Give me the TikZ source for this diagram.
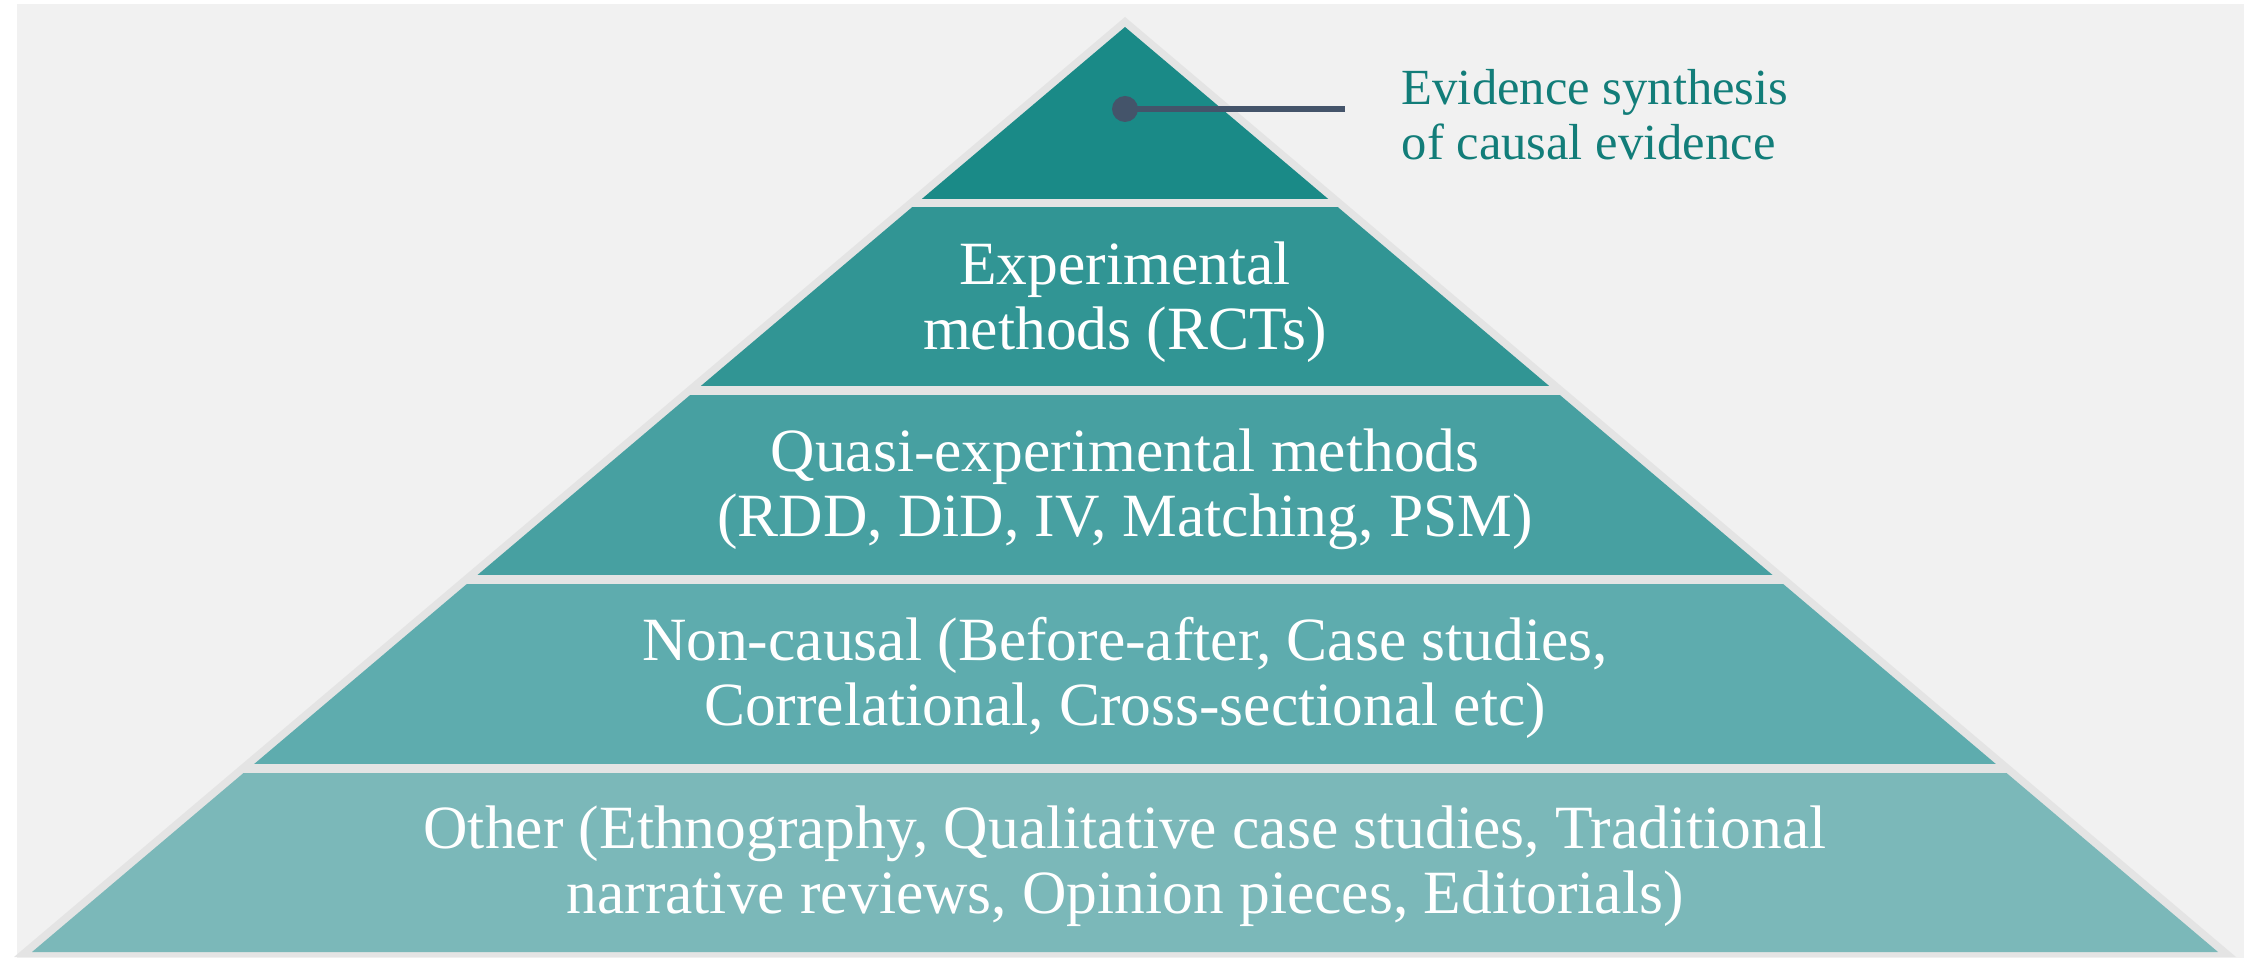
\documentclass[tikz,border=0pt]{standalone}
\usepackage{fontspec}
\setmainfont{Liberation Serif}
\usetikzlibrary{positioning}

\definecolor{panel}{HTML}{F1F1F1}
\definecolor{rim}{HTML}{E4E4E4}
\definecolor{tierA}{HTML}{1A8A87}
\definecolor{tierB}{HTML}{319594}
\definecolor{tierC}{HTML}{47A0A1}
\definecolor{tierD}{HTML}{5EACAE}
\definecolor{tierE}{HTML}{7BB8B9}
\definecolor{slate}{HTML}{44546A}
\definecolor{tealink}{HTML}{127D79}

\begin{document}
\begin{tikzpicture}[
  tiertext/.style={
    text=white, align=center,
    font=\fontsize{17.5}{18.6}\selectfont
  },
  note/.style={
    text=tealink, align=left, inner sep=0pt,
    font=\fontsize{14.4}{15.6}\selectfont
  },
  pin/.style={circle, fill=slate, inner sep=0pt, minimum size=0.26cm},
  leader/.style={slate, line width=1.7pt},
]

\useasboundingbox (0,0) rectangle (22.44,9.58);

% Grey panel behind the pyramid
\fill[panel] (0.17,0) rectangle (22.44,9.54);

% Outer rim of the pyramid
\fill[rim] (11.25,9.41) -- (0.14,0.01) -- (22.36,0.01) -- cycle;

% Tiers: horizontal bands clipped to the inner triangle
\begin{scope}
  \clip (11.25,9.31) -- (0.32,0.06) -- (22.18,0.06) -- cycle;
  \foreach \bot/\top/\col in {7.59/9.40/tierA, 5.72/7.51/tierB,
                              3.83/5.63/tierC, 1.94/3.74/tierD,
                              0.00/1.85/tierE}
    \fill[\col] (0,\bot) rectangle (22.44,\top);
\end{scope}

% Tier labels
\node[tiertext] (rct)   at (11.25,6.56) {Experimental\\methods (RCTs)};
\node[tiertext] (quasi) at (11.25,4.69) {Quasi-experimental methods\\(RDD, DiD, IV, Matching, PSM)};
\node[tiertext] (noncs) at (11.25,2.80) {Non-causal (Before-after, Case studies,\\Correlational, Cross-sectional etc)};
\node[tiertext] (other) at (11.25,0.92) {Other (Ethnography, Qualitative case studies, Traditional\\narrative reviews, Opinion pieces, Editorials)};

% Callout for the top tier
\node[pin] (dot) at (11.25,8.49) {};
\coordinate (tip) at (13.45,8.49);
\node[note, anchor=west] (synth) at (14.01,8.43) {Evidence synthesis\\of causal evidence};
\draw[leader] (dot.center) -- (tip);

\end{tikzpicture}
\end{document}
